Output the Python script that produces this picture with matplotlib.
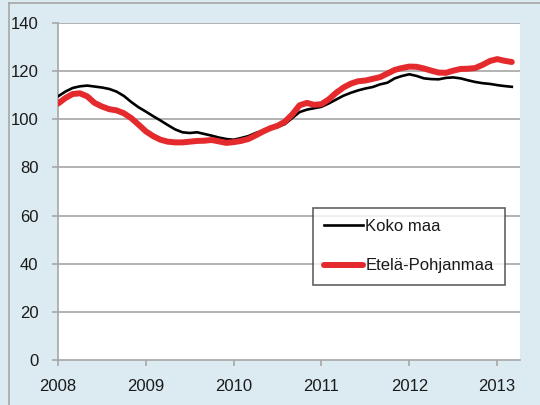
import matplotlib
matplotlib.use('Agg')
import matplotlib.pyplot as plt
import numpy as np
from matplotlib.lines import Line2D

# monthly index, Jan 2008 - Mar 2013
start_year = 2008
koko_maa = [109.5, 111.5, 113.0, 113.7, 114.0, 113.6, 113.2, 112.6, 111.5, 109.7,
            107.2, 105.0, 103.2, 101.3, 99.5, 97.6, 95.8, 94.6, 94.3, 94.6,
            93.9, 93.2, 92.4, 91.8, 91.5, 92.2, 93.0, 94.3, 95.3, 96.0,
            96.8, 98.0, 100.5, 103.0, 104.0, 104.6, 105.2, 106.6, 108.2, 109.8,
            111.0, 112.0, 112.8, 113.4, 114.5, 115.2, 117.0, 118.0, 118.7, 118.0,
            117.0, 116.7, 116.6, 117.2, 117.4, 117.0, 116.2, 115.5, 115.0, 114.7,
            114.2, 113.8, 113.5]
etela_pohjanmaa = [106.5, 108.8, 110.5, 110.8, 109.5, 106.8, 105.3, 104.2, 103.7, 102.5,
                   100.5, 97.8, 95.0, 93.0, 91.5, 90.7, 90.4, 90.4, 90.7, 91.0,
                   91.1, 91.4, 90.8, 90.2, 90.5, 91.0, 91.8, 93.3, 94.9, 96.3,
                   97.3, 99.0, 102.0, 105.8, 106.8, 106.0, 106.3, 108.3, 111.0, 113.2,
                   114.8, 115.8, 116.1, 116.8, 117.5, 119.0, 120.5, 121.3, 121.9, 121.8,
                   121.1, 120.2, 119.4, 119.3, 120.2, 120.9, 121.0, 121.3, 122.6, 124.2,
                   125.0, 124.3, 123.8]
year_ticks = [2008, 2009, 2010, 2011, 2012, 2013]
y_ticks = [0, 20, 40, 60, 80, 100, 120, 140]

x = start_year + np.arange(len(koko_maa)) / 12.0

bg = '#dcebf2'
grid_col = '#a6a6a6'

fig = plt.figure(figsize=(5.4, 4.05), dpi=100, facecolor=bg)
ax = fig.add_axes([58/540, 1 - 360/405, (520-58)/540, (360-23)/405])
ax.set_facecolor('white')

# outer frame of the chart (left and top visible)
fig.add_artist(Line2D([9/540, 9/540], [0, 1 - 3/405], transform=fig.transFigure,
                      color=grid_col, lw=1.2))
fig.add_artist(Line2D([9/540, 1], [1 - 3/405, 1 - 3/405], transform=fig.transFigure,
                      color=grid_col, lw=1.2))

for yv in y_ticks[1:]:
    ax.axhline(yv, color=grid_col, lw=1.2, zorder=1)

ax.plot(x, koko_maa, color='black', lw=1.9, label='Koko maa', zorder=3)
ax.plot(x, etela_pohjanmaa, color='#e42a2c', lw=4.3, label='Etelä-Pohjanmaa',
        zorder=4, solid_capstyle='round')

ax.set_xlim(2008, 2013.26)
ax.set_ylim(0, 140)
ax.set_xticks(year_ticks)
ax.set_xticklabels([str(y) for y in year_ticks])
ax.set_yticks(y_ticks)

for side in ['top', 'right']:
    ax.spines[side].set_visible(False)
for side in ['left', 'bottom']:
    ax.spines[side].set_color(grid_col)
    ax.spines[side].set_linewidth(1.2)
ax.tick_params(axis='both', colors=grid_col, length=4, width=1.2,
               labelcolor='#1a1a1a', labelsize=12)
ax.tick_params(axis='x', pad=10)
ax.tick_params(axis='y', pad=10)
for lab in ax.get_xticklabels() + ax.get_yticklabels():
    lab.set_family('Liberation Sans')

leg = ax.legend(loc='upper left', bbox_to_anchor=((313-58)/462, (360-208)/337),
                frameon=True, fancybox=False, handlelength=2.3, handletextpad=0.15,
                labelspacing=1.45, borderpad=0.68, borderaxespad=0,
                prop={'family': 'Liberation Sans', 'size': 12})
leg.get_frame().set_edgecolor('#3a3a3a')
leg.get_frame().set_linewidth(1.2)
for t in leg.get_texts():
    t.set_color('#1a1a1a')

fig.savefig('out.png', dpi=100, facecolor=bg)
